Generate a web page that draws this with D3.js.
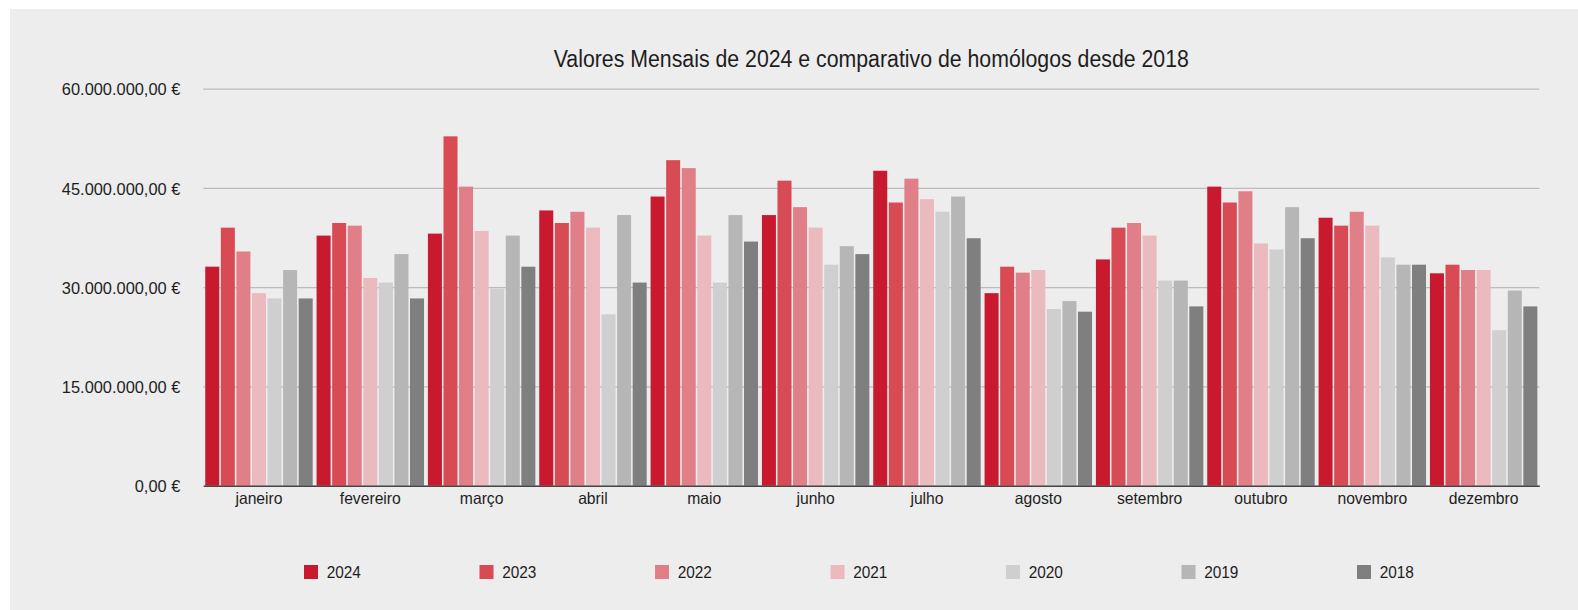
<!DOCTYPE html>
<html>
<head>
<meta charset="utf-8">
<style>
  body { margin: 0; background: #fff; }
  text { font-family: "Liberation Sans", Arial, Helvetica, sans-serif; fill: #1e1e1e; }
</style>
</head>
<body>
<div id="container"></div>
<script src="https://d3js.org/d3.v7.min.js"></script>
<script>
// months, series and legend entries (values in millions of euros)
const months = ["janeiro", "fevereiro", "março", "abril", "maio", "junho",
  "julho", "agosto", "setembro", "outubro", "novembro", "dezembro"];
const years = ["2024", "2023", "2022", "2021", "2020", "2019", "2018"];
const colors = ["#c8192f", "#d84a54", "#e07f87", "#ebbabe", "#cfcfcf", "#b6b6b6", "#7f7f7f"];

const v2024 = [33.1, 37.8, 38.1, 41.6, 43.7, 40.9, 47.6, 29.1, 34.2, 45.2, 40.5, 32.1];
const v2023 = [39.0, 39.7, 52.8, 39.7, 49.2, 46.1, 42.8, 33.1, 39.0, 42.8, 39.3, 33.4];
const v2022 = [35.4, 39.3, 45.2, 41.4, 48.0, 42.1, 46.4, 32.2, 39.7, 44.5, 41.4, 32.6];
const v2021 = [29.1, 31.4, 38.5, 39.0, 37.8, 39.0, 43.3, 32.6, 37.8, 36.6, 39.3, 32.6];
const v2020 = [28.3, 30.7, 29.8, 25.9, 30.7, 33.4, 41.4, 26.7, 31.0, 35.7, 34.5, 23.5];
const v2019 = [32.6, 35.0, 37.8, 40.9, 40.9, 36.2, 43.7, 27.9, 31.0, 42.1, 33.4, 29.5];
const v2018 = [28.3, 28.3, 33.1, 30.7, 36.9, 35.0, 37.4, 26.3, 27.1, 37.4, 33.4, 27.1];
const yTicks = [0, 15, 30, 45, 60];

const title = "Valores Mensais de 2024 e comparativo de homólogos desde 2018";

const series = [v2024, v2023, v2022, v2021, v2020, v2019, v2018];

const width = 1578;
const height = 610;
const marginTop = 88.7;
const marginLeft = 203.3;
const marginRight = 38.7;
const marginBottom = 124.3;
const stretch = 1.09;  // text in the original is a bit taller than wide

const pt = d3.formatLocale({decimal: ",", thousands: ".", grouping: [3], currency: ["", " €"]});
const euro = pt.format("$,.2f");

const svg = d3.create("svg")
    .attr("width", width)
    .attr("height", height);

// grey panel
svg.append("rect")
    .attr("x", 10).attr("y", 9)
    .attr("width", width - 10).attr("height", height - 9)
    .attr("fill", "#ededed");

const x0 = d3.scaleBand()
    .domain(months)
    .range([marginLeft, width - marginRight])
    .paddingInner(0.035)
    .paddingOuter(0.0175);

const x1 = d3.scaleBand()
    .domain(years)
    .range([0, x0.bandwidth()])
    .paddingInner(0.1);

const y = d3.scaleLinear()
    .domain([0, 60])
    .range([height - marginBottom, marginTop]);

// y axis + gridlines
svg.append("g")
    .attr("transform", `translate(${marginLeft},0)`)
    .call(d3.axisLeft(y)
      .tickValues(yTicks)
      .tickSize(-(width - marginLeft - marginRight))
      .tickPadding(23)
      .tickFormat(d => euro(d * 1e6)))
    .call(g => g.select(".domain").remove())
    .call(g => g.selectAll(".tick line").attr("stroke", "#bcbcbc").attr("stroke-width", 1.3))
    .call(g => g.selectAll(".tick text")
      .attr("font-size", 16.4)
      .attr("dy", "0.36em")
      .attr("transform", "scale(1,1.05)"));

// bars
svg.append("g")
  .selectAll("g")
  .data(months)
  .join("g")
    .attr("transform", m => `translate(${x0(m)},0)`)
  .selectAll("rect")
  .data((m, i) => years.map((yr, k) => ({year: yr, value: series[k][i], color: colors[k]})))
  .join("rect")
    .attr("x", d => x1(d.year))
    .attr("y", d => y(d.value))
    .attr("width", x1.bandwidth())
    .attr("height", d => y(0) - y(d.value))
    .attr("fill", d => d.color);

// x axis
svg.append("g")
    .attr("transform", `translate(0,${height - marginBottom})`)
    .call(d3.axisBottom(x0).tickSize(0).tickPadding(5.6))
    .call(g => g.select(".domain").attr("stroke", "#444").attr("stroke-width", 1.6))
    .call(g => g.selectAll(".tick text")
      .attr("font-size", 15.7)
      .attr("transform", `scale(1,${stretch})`));

// title
svg.append("text")
    .attr("transform", `translate(${(marginLeft + width - marginRight) / 2},66.7) scale(1,${stretch})`)
    .attr("text-anchor", "middle")
    .attr("font-size", 21.3)
    .text(title);

// legend
const legend = svg.append("g")
  .selectAll("g")
  .data(years)
  .join("g")
    .attr("transform", (d, i) => `translate(${304 + i * 175.5},565)`);

legend.append("rect")
    .attr("width", 14)
    .attr("height", 14)
    .attr("fill", (d, i) => colors[i]);

legend.append("text")
    .attr("transform", `translate(22.7,13.3) scale(1,${stretch})`)
    .attr("font-size", 15.4)
    .text(d => d);

container.append(svg.node());
</script>
</body>
</html>
